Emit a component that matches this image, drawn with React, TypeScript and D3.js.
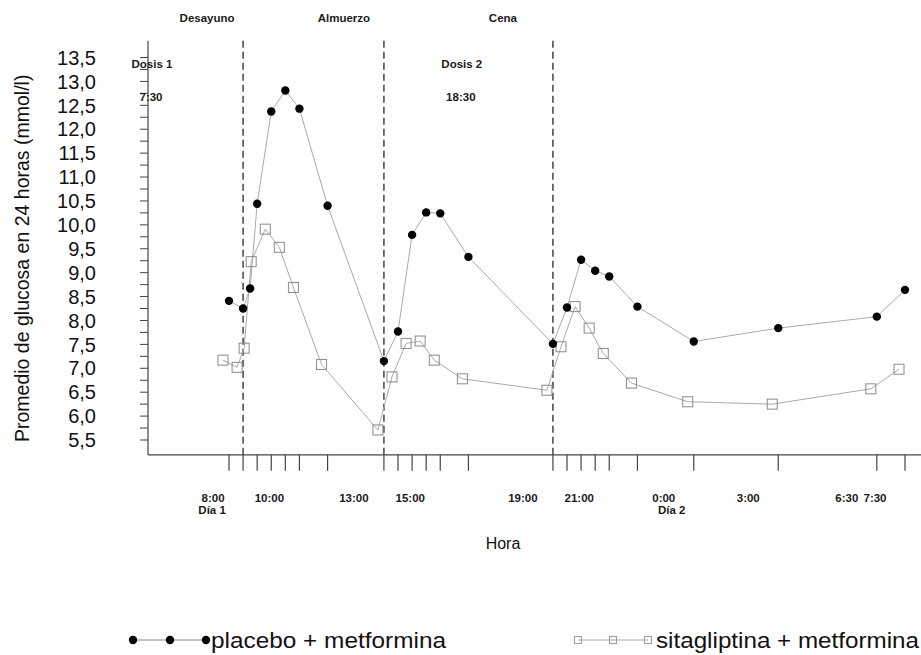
import React from "react";
import * as d3 from "d3";

// Sampling times (hours from midnight of day 1)
const hours = [7.5, 8, 8.25, 8.5, 9, 9.5, 10, 11, 13, 13.5, 14, 14.5, 15, 16, 19, 19.5, 20, 20.5, 21, 22, 24, 27, 30.5, 31.5];
const placebo = [8.41, 8.25, 8.67, 10.44, 12.37, 12.81, 12.43, 10.4, 7.15, 7.77, 9.79, 10.26, 10.24, 9.33, 7.51, 8.27, 9.27, 9.04, 8.92, 8.29, 7.56, 7.84, 8.08, 8.64];
const sitagliptina = [7.17, 7.02, 7.42, 9.23, 9.91, 9.53, 8.69, 7.08, 5.71, 6.82, 7.52, 7.57, 7.17, 6.78, 6.54, 7.45, 8.29, 7.84, 7.31, 6.69, 6.3, 6.25, 6.57, 6.98];

const tickHours = [7.5, 8, 8.5, 9, 9.5, 10, 11, 13, 13.5, 14, 14.5, 15, 16, 19, 19.5, 20, 20.5, 21, 22, 24, 27, 30.5, 31.5];
const tickLabelHours = [8, 10, 13, 15, 19, 21, 24, 27, 30.5, 31.5];
const tickLabelTexts = ["8:00", "10:00", "13:00", "15:00", "19:00", "21:00", "0:00", "3:00", "6:30", "7:30"];
const dayHours = [8, 24];
const dayTexts = ["Día 1", "Día 2"];

const mealHours = [8, 13, 19];
const mealNames = ["Desayuno", "Almuerzo", "Cena"];
const doseHours = [7.5, 18.5];
const doseNames = ["Dosis 1", "Dosis 2"];
const doseTimes = ["7:30", "18:30"];

const seriesNames = ["placebo + metformina", "sitagliptina + metformina"];

export default function App() {
  const W = 921;
  const H = 655;
  const x = d3.scaleLinear().domain([7.5, 31.5]).range([229, 905]);
  const y = d3.scaleLinear().domain([5.5, 13.5]).range([440, 57.5]);
  const axisX = 148;
  const axisY = y(5.19);
  const axisTop = y(13.85);
  const sitDx = -6;

  const line = d3
    .line<number>()
    .x((_, i) => x(hours[i]))
    .y((d) => y(d));
  const lineSit = d3
    .line<number>()
    .x((_, i) => x(hours[i]) + sitDx)
    .y((d) => y(d));

  const yTicks = d3.range(5.5, 13.51, 0.25);
  const yLabels = d3.range(5.5, 13.51, 0.5);
  const fmt = (v: number) => d3.format(".1f")(v).replace(".", ",");

  const mealDx = [-36, -40, -50];
  const boldFont = "'Liberation Sans', Arial, sans-serif";
  const sq = 10;

  return (
    <svg
      width={W}
      height={H}
      style={{ position: "absolute", left: 0, top: 0, background: "#fff" }}
      fontFamily={boldFont}
    >
      {/* Y axis */}
      <line x1={axisX} x2={axisX} y1={axisTop} y2={axisY} stroke="#444" strokeWidth={1.2} />
      {yTicks.map((v, i) => (
        <line key={"yt" + i} x1={axisX - 8} x2={axisX} y1={y(v)} y2={y(v)} stroke="#444" strokeWidth={1} />
      ))}
      {yLabels.map((v, i) => (
        <text key={"yl" + i} x={96} y={y(v)} dy="0.36em" textAnchor="end" fontSize={20} fill="#111">
          {fmt(v)}
        </text>
      ))}
      <text
        transform={`translate(22,${y(9.3)}) rotate(-90)`}
        textAnchor="middle"
        dy="0.35em"
        fontSize={19.5}
        fill="#111"
      >
        Promedio de glucosa en 24 horas (mmol/l)
      </text>

      {/* X axis */}
      <line x1={axisX} x2={W} y1={axisY} y2={axisY} stroke="#444" strokeWidth={1.2} />
      {tickHours.map((h, i) => (
        <line key={"xt" + i} x1={x(h)} x2={x(h)} y1={axisY} y2={axisY + 16} stroke="#444" strokeWidth={1.2} />
      ))}
      {tickLabelHours.map((h, i) => (
        <text key={"xl" + i} x={x(h) - 30} y={502} textAnchor="middle" fontSize={11.5} fontWeight="bold" fill="#1a1a1a">
          {tickLabelTexts[i]}
        </text>
      ))}
      {dayHours.map((h, i) => (
        <text key={"dl" + i} x={x(h) - (i === 0 ? 31 : 22)} y={514} textAnchor="middle" fontSize={11.5} fontWeight="bold" fill="#1a1a1a">
          {dayTexts[i]}
        </text>
      ))}
      <text x={503} y={543} dy="0.35em" textAnchor="middle" fontSize={16} fill="#111">
        Hora
      </text>

      {/* Meal dashed lines */}
      {mealHours.map((h, i) => (
        <g key={"m" + i}>
          <line x1={x(h)} x2={x(h)} y1={axisTop} y2={axisY} stroke="#444" strokeWidth={1.5} strokeDasharray="7,4" />
          <text x={x(h) + mealDx[i]} y={18} dy="0.35em" textAnchor="middle" fontSize={11.5} fontWeight="bold" fill="#1a1a1a">
            {mealNames[i]}
          </text>
        </g>
      ))}
      {doseHours.map((h, i) => (
        <g key={"d" + i}>
          <text x={x(h) - 77} y={64} dy="0.35em" textAnchor="middle" fontSize={11.5} fontWeight="bold" fill="#1a1a1a">
            {doseNames[i]}
          </text>
          <text x={x(h) - 78} y={97} dy="0.35em" textAnchor="middle" fontSize={11.5} fontWeight="bold" fill="#1a1a1a">
            {doseTimes[i]}
          </text>
        </g>
      ))}

      {/* Series */}
      <path d={lineSit(sitagliptina) || ""} fill="none" stroke="#aaa" strokeWidth={1} />
      <path d={line(placebo) || ""} fill="none" stroke="#aaa" strokeWidth={1} />
      {sitagliptina.map((v, i) => (
        <rect
          key={"s" + i}
          x={x(hours[i]) + sitDx - sq / 2}
          y={y(v) - sq / 2}
          width={sq}
          height={sq}
          fill="none"
          stroke="#8a8a8a"
          strokeWidth={1}
        />
      ))}
      {placebo.map((v, i) => (
        <circle key={"p" + i} cx={x(hours[i])} cy={y(v)} r={4.2} fill="#000" />
      ))}

      {/* Legend */}
      <g>
        <line x1={133} x2={206} y1={640} y2={640} stroke="#888" strokeWidth={1} />
        {[133, 170, 206].map((cx, i) => (
          <circle key={"lc" + i} cx={cx} cy={640} r={4.2} fill="#000" />
        ))}
        <text x={211} y={640} dy="0.35em" fontSize={21.5} fill="#111" textLength={235} lengthAdjust="spacingAndGlyphs">
          {seriesNames[0]}
        </text>
        <line x1={578} x2={648} y1={640} y2={640} stroke="#aaa" strokeWidth={1} />
        {[578, 613, 648].map((cx, i) => (
          <rect key={"ls" + i} x={cx - 3.5} y={636.5} width={7} height={7} fill="none" stroke="#999" strokeWidth={1} />
        ))}
        <text x={656} y={640} dy="0.35em" fontSize={21.5} fill="#111" textLength={263} lengthAdjust="spacingAndGlyphs">
          {seriesNames[1]}
        </text>
      </g>
    </svg>
  );
}
